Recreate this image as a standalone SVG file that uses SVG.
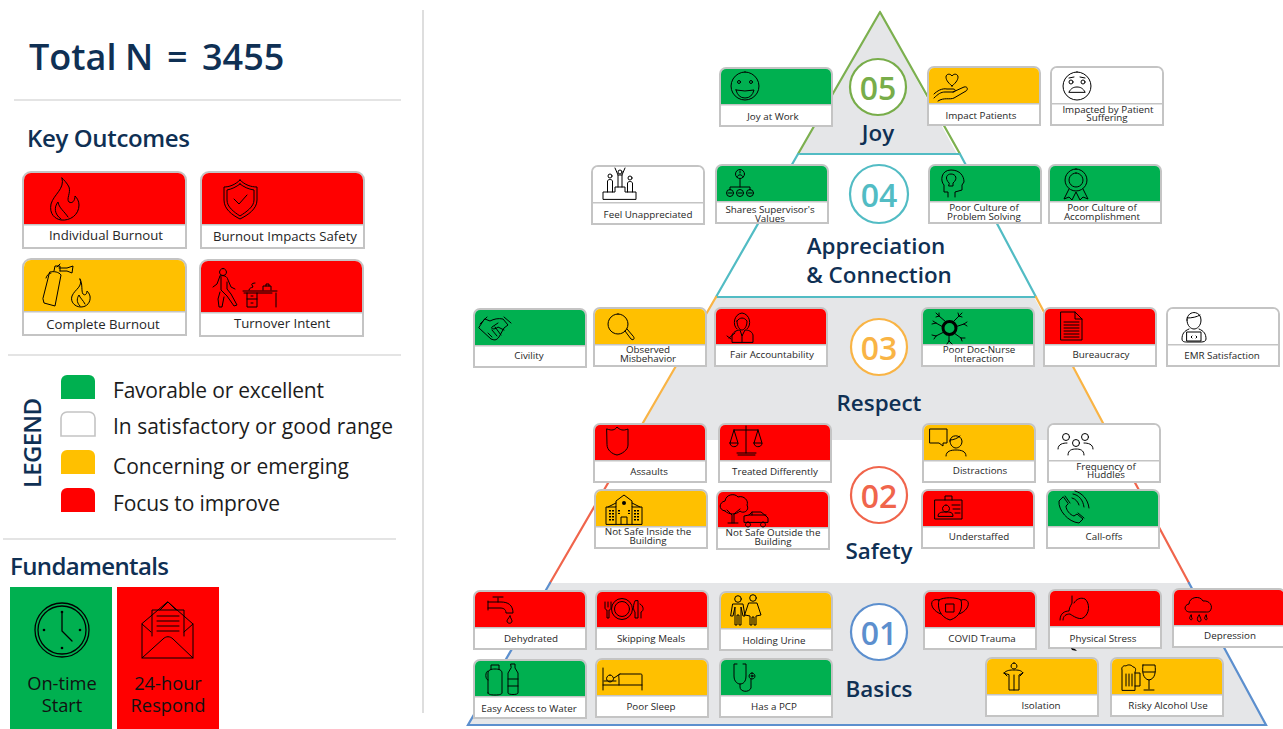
<svg xmlns="http://www.w3.org/2000/svg" xmlns:xlink="http://www.w3.org/1999/xlink" width="1283" height="729" viewBox="0 0 1283 729">
<style>
text{font-family:"Open Sans","Noto Sans","Liberation Sans",sans-serif}
.h{fill:#0f3054;font-weight:600}
.l{font-size:21px;fill:#1c1c1c}
.c{font-size:9.800px;fill:#262626;text-anchor:middle}
.m{font-size:13.200px;fill:#262626;text-anchor:middle}
.f{font-size:18.300px;fill:#111;text-anchor:middle}
.n{font-size:32px;font-weight:600;text-anchor:middle}
.t{font-size:22.400px;fill:#0f3054;font-weight:600;text-anchor:middle}
.i{fill:none;stroke:#000;stroke-width:1;stroke-linejoin:round;stroke-linecap:round}
.k{fill:#000;stroke:none}
.b{fill:#fff;stroke:#c4c4c4;stroke-width:2}
.d{fill:none;stroke:#c4c4c4;stroke-width:1.500}
.R{fill:#f00}.G{fill:#00b050}.Y{fill:#ffc000}.W{fill:#fff}
.p{fill:#e5e6e8}
.o{fill:none;stroke-width:2.200;stroke-linecap:round}
.ru{stroke:#dcdcdc;stroke-width:1.500}
</style>
<defs>
<g id="card"><path class="b" d="M0 58V6a6 6 0 0 1 6-6H106a6 6 0 0 1 6 6V58Z"/><path d="M1 36V6a5 5 0 0 1 5-5H106a5 5 0 0 1 5 5V36Z"/><path class="d" d="M0 36.700H112"/></g>
<g id="big"><path class="b" d="M0 76V8a8 8 0 0 1 8-8H155a8 8 0 0 1 8 8V76Z"/><path d="M1 52V8a7 7 0 0 1 7-7H155a7 7 0 0 1 7 7V52Z"/><path class="d" d="M0 52.800H163"/></g>
<path id="sw" d="M0 24V6a6 6 0 0 1 6-6H28a6 6 0 0 1 6 6V24Z"/>
</defs>

<g id="left-rules">
<path class="ru" d="M14 100H401M8 355H401M3 539H396"/>
<path d="M423 10V713" stroke="#d6d6d6" stroke-width="1.600"/>
</g>
<text id="total" y="70" class="h" font-size="36"><tspan x="29">Total</tspan><tspan x="125">N</tspan><tspan x="167">=</tspan><tspan x="202">3455</tspan></text>
<text id="key-title" x="27" y="147" class="h" font-size="24" textLength="163">Key Outcomes</text>

<g id="outcome-individual" transform="translate(23,172)"><use href="#big" class="R"/>
<path class="i" d="M39 6C42 17 31 22 28 32C26 42 32 47 38 48C47 49 56 43 56 33C56 29 54 26 52 24C52 29 49 32 46 30C43 27 48 21 46 15C44 11 41 8 39 6ZM38 47C31 42 31 35 35 30C36 36 41 39 45 45"/>
<text x="83" y="68" class="m">Individual Burnout</text></g>
<g id="outcome-safety" transform="translate(201,172)"><use href="#big" class="R"/>
<path class="i" d="M39 8C34 13 28 15 23 15V28C23 37 31 43 39 47C47 43 56 37 56 28V15C50 15 44 13 39 8ZM39 12C35 15 31 17 26 18V28C26 35 33 40 39 44C45 40 53 35 53 28V18C47 17 43 15 39 12ZM33 27L38 32L46 23"/>
<text x="84" y="69" class="m">Burnout Impacts Safety</text></g>
<g id="outcome-complete" transform="translate(23,259)"><use href="#big" class="Y"/>
<path class="i" d="M27 13C31 12 36 13 38 16L32 47L21 44L20 40ZM31 12L32 7H37L37 12M28 14C26 14 24 16 23 19M36 9L44 9L50 7L49 14L44 12L37 12M34 8L37 5"/>
<path class="i" d="M57 20C60 28 52 30 49 37C47 43 52 48 58 48C64 48 68 43 67 37C66 34 65 33 64 32C64 35 62 37 60 35C58 32 60 25 57 20ZM57 47C53 43 54 39 56 36C57 39 60 41 62 45"/>
<text x="80" y="70" class="m">Complete Burnout</text></g>
<g id="outcome-turnover" transform="translate(200,260)"><use href="#big" class="R"/>
<path class="i" d="M23 8.500a3.500 3.500 0 1 0 .01 0ZM20 16C24 15 27 16 28 20L31 27L35 29M20 16L17 24L13 27M21 17L21 30L27 36L34 46L37 45L31 34L27 29L27 22M20 32L18 39L19 47L22 47L24 37"/>
<path class="i" d="M43 31H77M44 33H72M76 33V47M47 33V47H57V33M47 39H57M51 36H53M51 43H53M49 30C49 28 51 28 53 27L52 25C51 24 53 23 55 23M63 30V26H71V30M66 26V24H69V26"/>
<text x="82" y="68" class="m">Turnover Intent</text></g>

<g id="legend">
<text transform="translate(41,488) rotate(-90)" class="h" font-size="24" textLength="90">LEGEND</text>
<g id="lg-green"><use href="#sw" x="61" y="375" class="G"/><text x="113" y="398" class="l" textLength="211">Favorable or excellent</text></g>
<g id="lg-white"><use href="#sw" x="61" y="412" fill="#fff" stroke="#c4c4c4" stroke-width="1.600"/><text x="113" y="434" class="l" textLength="280">In satisfactory or good range</text></g>
<g id="lg-yellow"><use href="#sw" x="61" y="450" class="Y"/><text x="113" y="474" class="l" textLength="236">Concerning or emerging</text></g>
<g id="lg-red"><use href="#sw" x="61" y="488" class="R"/><text x="113" y="511" class="l" textLength="167">Focus to improve</text></g>
</g>

<text id="fund-title" x="10" y="575" class="h" font-size="24" textLength="159">Fundamentals</text>
<g id="fund-start"><rect x="10" y="587" width="102" height="142" class="G"/>
<g class="i"><circle cx="62" cy="630" r="27" stroke-width="1.300"/><circle cx="62" cy="630" r="24" stroke-width="1.300"/><path d="M62 613V631L72 641" stroke-width="1.300"/></g>
<g class="k"><circle cx="62" cy="612" r="1.300"/><circle cx="62" cy="648" r="1.300"/><circle cx="44" cy="630" r="1.300"/><circle cx="80" cy="630" r="1.300"/></g>
<text x="62" y="690" class="f">On-time</text><text x="62" y="712" class="f">Start</text></g>
<g id="fund-respond"><rect x="117" y="587" width="102" height="142" class="R"/>
<path class="i" stroke-width="1.300" d="M142 624V658H193V624L168 602ZM142 658L163 639C166 636 170 636 173 639L193 658M142 624L151 632M193 624L184 632M152 636V610H184V636M157 616H179M157 621H179M157 626H179M157 631H179M160 610L168 602L176 610"/>
<text x="168" y="690" class="f">24-hour</text><text x="168" y="712" class="f">Respond</text></g>

<g id="pyramid">
<path class="p" d="M880 12L798 154H957Z"/>
<path class="p" d="M715 297H1034L1112 440H633Z"/>
<path class="p" d="M550 583H1189L1266 725H468Z"/>
<path class="o" stroke="#7cb04f" d="M880 12L798 154M880 12L960 154"/>
<path class="o" stroke="#52bcc4" d="M800 154H960M798 154L716 297M960 154L1036 297M716 297H1036"/>
<path class="o" stroke="#f9b445" d="M716 297L633 440M1036 297L1112 440"/>
<path class="o" stroke="#f0654c" d="M633 440L550 583M1112 440L1189 583"/>
<path class="o" stroke="#5c8fce" d="M550 583L468 725H1266L1189 583"/>
</g>

<g id="level-05"><circle cx="878" cy="87" r="28" fill="#fff" stroke="#78ad4a" stroke-width="2.200"/><text x="878" y="100" class="n" fill="#78ad4a">05</text><text x="878" y="141" class="t">Joy</text></g>
<g id="level-04"><circle cx="879" cy="194" r="29" fill="#fff" stroke="#52bcc4" stroke-width="2.200"/><text x="879" y="207" class="n" fill="#52bcc4">04</text><text x="876" y="254" class="t">Appreciation</text><text x="879" y="283" class="t">&amp; Connection</text></g>
<g id="level-03"><circle cx="879" cy="347" r="28" fill="#fff" stroke="#f9b445" stroke-width="2.200"/><text x="879" y="360" class="n" fill="#f9b445">03</text><text x="879" y="411" class="t">Respect</text></g>
<g id="level-02"><circle cx="879" cy="495" r="28" fill="#fff" stroke="#f0654c" stroke-width="2.200"/><text x="879" y="508" class="n" fill="#f0654c">02</text><text x="879" y="559" class="t">Safety</text></g>
<g id="level-01"><circle cx="879" cy="632" r="28" fill="#fff" stroke="#5c8fce" stroke-width="2.200"/><text x="879" y="645" class="n" fill="#5c8fce">01</text><text x="879" y="697" class="t">Basics</text></g>

<g id="joy-at-work" transform="translate(720,68)"><use href="#card" class="G"/>
<path class="i" d="M25 4a14 14 0 1 0 .01 0ZM16 22Q25 24 34 22Q32 30 25 30Q18 30 16 22Z"/><circle class="i" cx="19" cy="14" r="1.500"/><circle class="i" cx="31" cy="14" r="1.500"/>
<text x="53" y="52" class="c">Joy at Work</text></g>
<g id="impact-patients" transform="translate(928,67)"><use href="#card" class="Y"/>
<path class="i" d="M24 19C19 15 18 12 18 10C18 7 22 6 24 9C26 6 30 7 30 10C30 12 29 15 24 19ZM6 31C10 27 13 25 17 25H25C28 25 28 22 25 22H19C14 21 9 24 6 27M25 25L36 20C40 19 40 23 38 24L26 31C22 33 16 30 10 34"/>
<text x="53" y="52" class="c">Impact Patients</text></g>
<g id="impacted-by-suffering" transform="translate(1051,67)"><use href="#card" class="W"/>
<path class="i" d="M26 5a14 14 0 1 0 .01 0ZM18 25C20 21 23 20 26 20C29 20 32 21 34 25ZM18 11L23 10M29 10L34 11"/><circle class="i" cx="20" cy="15" r="2"/><circle class="i" cx="32" cy="15" r="2"/>
<text x="57" y="46" class="c">Impacted by Patient</text><text x="56" y="54" class="c">Suffering</text></g>

<g id="feel-unappreciated" transform="translate(592,166)"><use href="#card" class="W"/>
<path class="i" d="M11 33V26H23V21H33V26H44V33Z"/>
<g class="i"><circle cx="28" cy="6" r="2"/><path d="M26 21V9L23 2M30 21V9L33 2M26 9H30"/><circle cx="18" cy="10" r="2"/><path d="M15.500 26V15C16 13 20 13 20.500 15V26"/><circle cx="38" cy="12" r="2"/><path d="M35.500 26V17C36 15 40 15 40.500 17V26"/></g>
<text x="56" y="52" class="c">Feel Unappreciated</text></g>
<g id="shares-values" transform="translate(716,165)"><use href="#card" class="G"/>
<g class="i"><circle cx="24" cy="9" r="4.500"/><path d="M24 14V22M14 25V22H34V25"/><circle cx="14" cy="28" r="3.500"/><circle cx="24" cy="28" r="3.500"/><circle cx="34" cy="28" r="3.500"/><path d="M21 12C22 9 26 9 27 12M24 6V8M12 28H16M22 28H26M32 28H36"/></g>
<text x="54" y="48" class="c">Shares Supervisor's</text><text x="54" y="57" class="c">Values</text></g>
<g id="culture-problem" transform="translate(929,165)"><use href="#card" class="G"/>
<path class="i" d="M19 32V27H15V20C11 16 12 5 22 5C31 5 35 11 35 17L33 20V25L26 27V32M20 18C15 13 18 9 22 9C27 9 29 14 24 18V21H20Z"/>
<text x="55" y="46" class="c">Poor Culture of</text><text x="55" y="55" class="c">Problem Solving</text></g>
<g id="culture-accomplish" transform="translate(1049,165)"><use href="#card" class="G"/>
<path class="i" d="M27 4a11 11 0 1 0 .01 0ZM27 8a7 7 0 1 0 .01 0ZM20 24L15 34L20 32L23 35L27 27L31 35L34 32L39 34L34 24"/>
<text x="53" y="46" class="c">Poor Culture of</text><text x="53" y="55" class="c">Accomplishment</text></g>

<g id="civility" transform="translate(474,309)"><use href="#card" class="G"/>
<path class="i" d="M6 15L13 8M30 8L37 14M11 10L16 12C20 10 24 9 29 10L34 16L30 19L25 28C22 32 20 31 17 30L5 19ZM24 14L18 18C16 20 21 21 24 18L30 21M14 24L18 28M18 21L23 27M21 18L27 26"/>
<text x="55" y="50" class="c">Civility</text></g>
<g id="observed-misbehavior" transform="translate(594,308)"><use href="#card" class="Y"/>
<path class="i" d="M24 6a10 10 0 1 0 .01 0ZM31 23L37 31C40 33 41 30 39 28L33 21"/>
<text x="54" y="45" class="c">Observed</text><text x="54" y="54" class="c">Misbehavior</text></g>
<g id="fair-accountability" transform="translate(715,308)"><use href="#card" class="R"/>
<path class="i" d="M22 21C17 17 19 6 27 5C35 6 37 17 32 21M22 13C25 9 29 9 32 13C32 19 29 22 27 22C25 22 22 19 22 13ZM17 34V27C19 23 23 22 25 22L27 28L30 22C33 22 37 23 38 27V34ZM27 28V34M14 30L20 25M12 28L16 31"/>
<text x="57" y="50" class="c">Fair Accountability</text></g>
<g id="doc-nurse" transform="translate(922,308)"><use href="#card" class="G"/>
<g class="i" stroke-width="3.600"><circle cx="27.500" cy="20" r="6.500" stroke-width="3"/><path d="M24 14L17 8M31 14L37 8M33 19L42 16M32 25L39 30M27 26V33M22 24L14 28M21 19L14 15"/></g>
<g class="i" stroke-width="1.300"><path d="M17 8L14 5M17 8L14 9M17 8L17 5M37 8L40 5M37 8L36 5M37 8L40 9M42 16L45 14M42 16L45 18M39 30L43 30M39 30L40 33M27 33L25 36M27 33L30 36M14 28L10 27M14 28L12 31M14 15L11 13M14 15L10 16"/></g>
<text x="57" y="45" class="c">Poor Doc-Nurse</text><text x="57" y="54" class="c">Interaction</text></g>
<g id="bureaucracy" transform="translate(1044,308)"><use href="#card" class="R"/>
<path class="i" d="M17 4H31L38 11V32H17ZM31 4V11H38M20 14H35M20 17H35M20 20H35M20 23H35M20 26H35M20 29H35"/>
<text x="57" y="50" class="c">Bureaucracy</text></g>
<g id="emr-satisfaction" transform="translate(1167,308)"><use href="#card" class="W"/>
<path class="i" d="M20 12C20 2 34 2 34 12C34 18 30 21 27 21C24 21 20 18 20 12ZM20 10C25 10 30 9 33 7M22 21C17 23 15 26 15 31C15 34 18 34 20 34H34C37 34 39 33 39 31C39 26 37 23 32 21M20 24H34V33H20ZM25 28L24 29L25 30M29 28L30 29L29 30"/>
<text x="55" y="51" class="c">EMR Satisfaction</text></g>

<g id="assaults" transform="translate(594,424)"><use href="#card" class="R"/>
<path class="i" d="M13 5C18 7 21 6 23 3C26 6 29 7 34 5V21C34 26 28 30 23 31C18 30 13 26 13 21Z"/>
<text x="55" y="51" class="c">Assaults</text></g>
<g id="treated-differently" transform="translate(719,424)"><use href="#card" class="R"/>
<path class="i" d="M27 2V29M19 31H36M18 29H37M15 6H39M15 6L11 19M15 6L19 19M39 6L35 19M39 6L43 19M11 19H19C19 24 11 24 11 19ZM35 19H43C43 24 35 24 35 19Z"/>
<text x="56" y="51" class="c">Treated Differently</text></g>
<g id="not-safe-inside" transform="translate(595,490)"><use href="#card" class="Y"/>
<path class="i" d="M11 34V17H21V11L29 5L37 11V17H47V34ZM21 17V34M37 17V34M26 34V27H32V34M13 17L21 13M37 13L45 17"/>
<path d="M15 20v11M18 20v11M24 20v4M34 20v4M40 20v11M43 20v11" stroke="#000" stroke-width="2" stroke-dasharray="1.500 1.500"/><circle class="k" cx="29" cy="13" r="2"/>
<text x="53" y="45" class="c">Not Safe Inside the</text><text x="53" y="54" class="c">Building</text></g>
<g id="not-safe-outside" transform="translate(717,491)"><use href="#card" class="R"/>
<path class="i" d="M15 32V24L10 19M17 32V23L23 18M11 32H21M8 20C1 19 2 11 8 10C9 3 18 2 21 6C27 4 32 10 30 14C33 20 26 23 23 20C19 24 12 24 8 20Z"/>
<path class="i" d="M27 31V25L32 24L35 21H44L49 25L51 27V31ZM31 31a2.500 2.500 0 1 0 .01 0M46 31a2.500 2.500 0 1 0 .01 0M35 21V24M32 24H49"/>
<text x="56" y="45" class="c">Not Safe Outside the</text><text x="56" y="54" class="c">Building</text></g>
<g id="distractions" transform="translate(923,424)"><use href="#card" class="Y"/>
<path class="i" d="M7 5H24V19H20V22L16 19H7ZM27 17C27 10 38 10 39 17C39 23 34 24 33 24C30 24 27 21 27 17ZM27 16C31 16 35 14 37 12M23 32C23 27 28 26 33 26C38 26 43 27 43 32"/>
<text x="57" y="50" class="c">Distractions</text></g>
<g id="frequency-huddles" transform="translate(1048,424)"><use href="#card" class="W"/>
<g class="i"><circle cx="18" cy="13" r="3.500"/><circle cx="37" cy="13" r="3.500"/><circle cx="28" cy="19" r="3.500"/><path d="M10 25C10 20 15 19 19 19M45 25C45 20 40 19 36 19M20 31C20 26 24 25 28 25C32 25 36 26 36 31"/></g>
<text x="58" y="46" class="c">Frequency of</text><text x="58" y="54" class="c">Huddles</text></g>
<g id="understaffed" transform="translate(922,490)"><use href="#card" class="R"/>
<path class="i" d="M13 10H40V29H13ZM23 10V6H30V10M24 15a3.500 3.500 0 1 0 .01 0M16 26C16 22 20 22 24 22C28 22 31 22 31 26ZM30 15H38M31 19H38M33 23H38"/>
<text x="57" y="50" class="c">Understaffed</text></g>
<g id="call-offs" transform="translate(1047,490)"><use href="#card" class="G"/>
<path class="i" d="M16 7L12 11C11 20 21 32 32 33L36 29L30 24L27 26C23 25 19 20 19 16L21 14ZM18 6L23 13M31 23L37 28M25 8C29 9 31 12 32 15M26 4C32 5 36 10 37 17M28 1C35 3 41 9 42 18"/>
<text x="57" y="50" class="c">Call-offs</text></g>

<g id="dehydrated" transform="translate(474,591)"><use href="#card" class="R"/>
<path class="i" d="M14 10V19M14 11H27C34 11 39 14 39 22H32C32 18 29 17 26 17H14M24 7V11M19 6H29M36 25C34 28 33 29 33 30C33 33 38 33 38 30C38 29 37 28 36 25Z"/>
<text x="57" y="51" class="c">Dehydrated</text></g>
<g id="skipping-meals" transform="translate(596,591)"><use href="#card" class="R"/>
<g class="i"><circle cx="26" cy="18" r="10.500"/><circle cx="26" cy="18" r="7.500"/><path d="M9 11V17C9 18 10 19 11 19V27H13V19C14 19 15 18 15 17V11M12 11V16M39 10C37 14 37 19 39 21V27H42V10ZM44 13C48 15 48 20 45 21V27"/></g>
<text x="55" y="51" class="c">Skipping Meals</text></g>
<g id="holding-urine" transform="translate(720,592)"><use href="#card" class="Y"/>
<g class="i"><circle cx="18" cy="7" r="3.300"/><circle cx="33" cy="6" r="3.300"/><path d="M13 12H23L25 24H23L21 15V33H19V23H17V33H15V15L13 24H11ZM29 11H37L41 23L36 24V33H34V25H32V33H30V24L25 23Z"/></g>
<text x="54" y="52" class="c">Holding Urine</text></g>
<g id="easy-water" transform="translate(474,660)"><use href="#card" class="G"/>
<path class="i" d="M17 9V5H25V9M14 33V13C14 10 17 9 21 9C25 9 28 10 28 13V33C28 34 26 35 21 35C16 35 14 34 14 33ZM14 11C11 11 11 20 14 20M37 4H41V8L44 13V33C44 35 34 35 34 33V13L37 8ZM34 19H44M34 26H44"/>
<text x="55" y="52" class="c">Easy Access to Water</text></g>
<g id="poor-sleep" transform="translate(596,659)"><use href="#card" class="Y"/>
<path class="i" d="M7 9V31M7 26H46M46 31V16C46 15 45 15 44 15H24C22 15 23 18 23 21V26M8 22L20 22M14 16a3.500 3.500 0 1 0 .01 0M18 19L24 15"/>
<text x="55" y="51" class="c">Poor Sleep</text></g>
<g id="has-pcp" transform="translate(720,659)"><use href="#card" class="G"/>
<path class="i" d="M17 5H14V17C14 23 18 25 20 25C23 25 26 23 26 17V5H23M20 25V28C20 33 29 34 31 29V20M32 14a3 3 0 1 0 .01 0Z"/><circle class="i" cx="32" cy="17" r="1"/>
<text x="54" y="51" class="c">Has a PCP</text></g>
<g id="covid-trauma" transform="translate(924,591)"><use href="#card" class="R"/>
<path class="i" d="M15 9C8 7 6 12 9 17C11 20 14 22 17 23M37 9C44 7 46 12 43 17C41 20 38 22 35 23M15 9C19 6 32 6 37 9C39 17 36 26 26 29C16 26 13 17 15 9ZM22 13H30V21H22Z"/>
<text x="58" y="51" class="c">COVID Trauma</text></g>
<g id="physical-stress" transform="translate(1049,590)"><use href="#card" class="R"/>
<path class="i" d="M23 6V11C24 14 20 16 20 21C16 21 11 23 11 30M14 30C14 26 17 24 21 24C24 26 30 30 34 28C41 24 41 13 36 9C32 7 27 9 25 13"/>
<text x="54" y="52" class="c">Physical Stress</text></g>
<g id="depression" transform="translate(1173,589)"><use href="#card" class="R"/>
<path class="i" d="M18 23C11 24 10 16 16 15C16 8 27 6 30 12C36 11 41 17 37 22C36 23 35 23 34 23ZM18 26C17 28 16 29 17 30C18 32 20 30 19 29ZM26 26C24 29 24 30 25 32C27 34 29 31 28 30ZM33 26C32 28 31 29 32 30C33 32 35 30 34 29Z"/>
<text x="57" y="50" class="c">Depression</text></g>
<path id="stray-mark" class="k" d="M1071 648l4 1 2 2-5-1z"/>
<g id="isolation" transform="translate(986,658)"><use href="#card" class="Y"/>
<path class="i" d="M28 5a3 3 0 1 0 .01 0ZM18 15C21 12 24 12 28 12C32 12 35 12 37 15L33 17V32H23V17ZM18 15L21 18M37 15L34 18M28 17V32"/>
<text x="55" y="51" class="c">Isolation</text></g>
<g id="risky-alcohol" transform="translate(1111,658)"><use href="#card" class="Y"/>
<path class="i" d="M11 32V12C10 9 13 7 15 8C17 6 21 7 22 9C25 9 25 12 24 14V32ZM24 15H29V28H24M15 16V28M18 16V28M21 16V28M32 7H44C45 14 44 21 38 22C32 21 31 14 32 7ZM32 14H44M38 22V31M33 32H43"/>
<text x="57" y="51" class="c">Risky Alcohol Use</text></g>
</svg>
